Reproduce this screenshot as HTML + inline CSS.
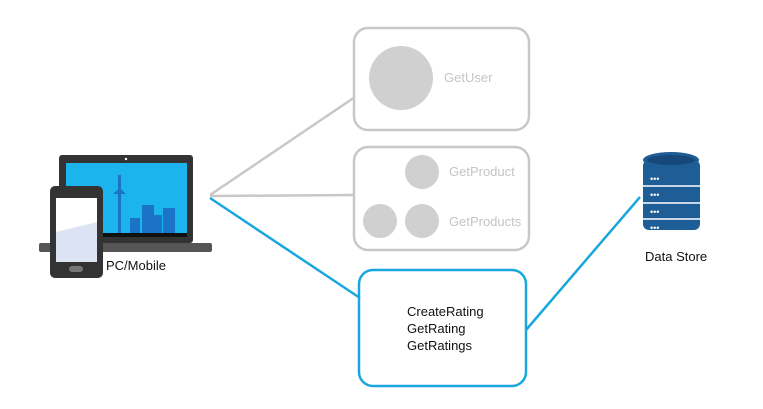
<!DOCTYPE html>
<html><head><style>
body{margin:0;width:763px;height:404px;background:#fff;overflow:hidden;font-family:"Liberation Sans",sans-serif}
</style></head><body>
<svg width="763" height="404" viewBox="0 0 763 404" xmlns="http://www.w3.org/2000/svg">
<g fill="none" stroke-width="2.5">
<line x1="210" y1="195" x2="355" y2="97" stroke="#c8c8c8"/>
<line x1="210" y1="196" x2="353" y2="195" stroke="#c8c8c8"/>
<line x1="210" y1="198" x2="360" y2="298" stroke="#1aa7dd"/>
<line x1="526" y1="330" x2="640" y2="197" stroke="#1aa7dd"/>
<rect x="354" y="28" width="175" height="102" rx="14" stroke="#c8c8c8"/>
<rect x="354" y="147" width="175" height="103" rx="14" stroke="#c8c8c8"/>
<rect x="359" y="270" width="167" height="116" rx="14" stroke="#1aa7dd"/>
</g>
<g fill="#d0d0d0">
<circle cx="401" cy="78" r="32"/>
<circle cx="422" cy="172" r="17"/>
<circle cx="380" cy="221" r="17"/>
<circle cx="422" cy="221" r="17"/>
</g>
<g font-size="13" fill="#c4c4c4">
<text x="444" y="82">GetUser</text>
<text x="449" y="176">GetProduct</text>
<text x="449" y="226">GetProducts</text>
</g>
<g font-size="13" fill="#111">
<text x="407" y="316">CreateRating</text>
<text x="407" y="333">GetRating</text>
<text x="407" y="350">GetRatings</text>
<text x="106" y="270">PC/Mobile</text>
<text x="645" y="261">Data Store</text>
</g>
<!-- laptop -->
<rect x="59" y="155" width="134" height="88" rx="3" fill="#333"/>
<rect x="66" y="163" width="121" height="74" fill="#1bb4ec"/>
<rect x="66" y="233" width="121" height="4" fill="#111"/>
<circle cx="126" cy="159" r="1.2" fill="#fff"/>
<g fill="#1a73c7">
<rect x="118" y="175" width="3" height="58"/><polygon points="113,194 126,194 120,188"/>
<rect x="130" y="218" width="10" height="15"/>
<rect x="142" y="205" width="12" height="28"/>
<rect x="154" y="215" width="8" height="18"/>
<rect x="163" y="208" width="12" height="25"/>
</g>
<rect x="39" y="243" width="173" height="9" rx="2" fill="#555"/>
<!-- phone -->
<rect x="50" y="186" width="53" height="92" rx="5" fill="#333"/>
<rect x="56" y="198" width="41" height="64" fill="#fff"/>
<polygon points="56,232 97,222 97,262 56,262" fill="#dce3f3"/>
<rect x="69" y="266" width="14" height="6" rx="3" fill="#777"/>
<!-- db -->
<g fill="#1f5d96">
<rect x="643" y="160" width="57" height="70" rx="6"/>
<ellipse cx="671" cy="160" rx="28" ry="8"/>
</g>
<ellipse cx="671" cy="160" rx="24" ry="5" fill="#17487a"/>
<g stroke="#fff" stroke-width="1.5"><line x1="643" y1="186" x2="700" y2="186"/><line x1="643" y1="203" x2="700" y2="203"/><line x1="643" y1="219" x2="700" y2="219"/></g>
<g fill="#fff"><text x="650" y="182" font-size="9">•••</text><text x="650" y="198" font-size="9">•••</text><text x="650" y="215" font-size="9">•••</text><text x="650" y="231" font-size="9">•••</text></g>
</svg>
</body></html>
